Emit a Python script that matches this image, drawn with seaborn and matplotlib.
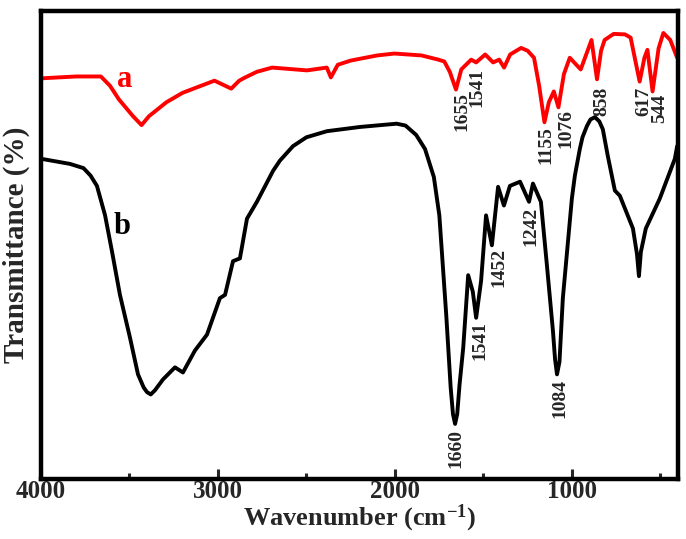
import pandas as pd
import matplotlib
matplotlib.use("Agg")
import matplotlib.pyplot as plt
import seaborn as sns
from matplotlib.ticker import MultipleLocator

# curve a (red), wavenumber / transmittance
wn_a = [4000, 3800, 3662, 3610, 3560, 3480, 3432, 3390, 3291, 3200, 3117, 3020,
        2925, 2880, 2846, 2780, 2694, 2497, 2385, 2362, 2323, 2250, 2100, 2003,
        1850, 1755, 1721, 1690, 1655, 1625, 1569, 1541, 1490, 1445, 1411, 1383,
        1349, 1287, 1250, 1214, 1185, 1155, 1130, 1102, 1076, 1045, 1012, 950,
        889, 858, 835, 815, 764, 700, 668, 617, 590, 573, 544, 510, 483, 444, 405]
t_a = [85.6, 86.0, 86.0, 84.0, 81.1, 77.5, 75.6, 77.5, 80.5, 82.5, 83.7, 85.1,
       83.4, 85.1, 85.8, 87.0, 87.9, 87.3, 87.9, 85.8, 88.5, 89.4, 90.5, 90.9,
       90.5, 89.6, 89.2, 87.0, 83.2, 87.5, 89.6, 89.0, 90.7, 89.0, 89.6, 87.9,
       90.7, 92.1, 91.5, 90.0, 84.0, 76.2, 80.5, 82.8, 79.4, 86.5, 90.0, 87.5,
       93.8, 85.4, 91.5, 93.8, 95.1, 95.0, 94.3, 84.9, 90.0, 91.7, 82.8, 92.0,
       95.3, 93.8, 90.0]

# curve b (black)
wn_b = [4000, 3836, 3760, 3720, 3684, 3638, 3599, 3554, 3497, 3452, 3420, 3401,
        3380, 3356, 3311, 3243, 3198, 3130, 3062, 2989, 2960, 2915, 2876, 2836,
        2780, 2689, 2650, 2576, 2500, 2384, 2198, 2050, 1990, 1940, 1880, 1830,
        1780, 1749, 1710, 1685, 1672, 1660, 1648, 1635, 1614, 1586, 1560, 1541,
        1513, 1485, 1452, 1417, 1384, 1350, 1293, 1242, 1220, 1175, 1141, 1107,
        1095, 1084, 1070, 1051, 1000, 983, 955, 940, 915, 895, 870, 845, 825,
        797, 757, 729, 655, 632, 621, 610, 582, 503, 418, 405]
t_b = [68.4, 67.3, 66.4, 64.8, 62.6, 56.3, 48.6, 39.3, 30.1, 22.3, 19.5, 18.5,
       18.0, 18.9, 21.2, 23.8, 22.7, 27.4, 30.8, 38.6, 39.3, 46.5, 47.1, 55.6,
       59.2, 65.8, 68.0, 71.1, 73.0, 74.3, 75.2, 75.7, 75.9, 75.5, 73.5, 70.5,
       64.5, 56.3, 35.0, 19.5, 13.8, 11.7, 13.8, 20.0, 28.0, 43.5, 40.0, 34.4,
       42.3, 56.3, 49.9, 62.4, 58.4, 62.6, 63.5, 59.2, 63.1, 59.2, 45.6, 31.6,
       25.5, 22.3, 25.0, 38.6, 59.9, 64.8, 70.5, 73.0, 75.4, 76.8, 77.3, 76.4,
       74.7, 69.0, 61.6, 60.5, 53.5, 48.0, 43.3, 48.5, 53.5, 59.9, 68.4, 71.1]

# peak labels
peaks_a = ["1655", "1541", "1155", "1076", "858", "617", "544"]
peaks_a_x = [1622, 1537, 1147, 1034, 831, 593, 503]
peaks_a_y = [82.6, 87.9, 75.4, 79.0, 83.9, 83.9, 82.2]
peaks_b = ["1660", "1541", "1452", "1242", "1084"]
peaks_b_x = [1655, 1520, 1412, 1232, 1068]
peaks_b_y = [10.6, 33.8, 49.3, 58.2, 21.2]

df_a = pd.DataFrame({"wn": wn_a, "T": t_a})
df_b = pd.DataFrame({"wn": wn_b, "T": t_b})

sns.set_theme(style="white")
plt.rcParams["font.family"] = ["Liberation Serif", "DejaVu Serif"]
plt.rcParams["font.weight"] = "bold"
plt.rcParams["mathtext.fontset"] = "custom"
plt.rcParams["mathtext.rm"] = "Liberation Serif:bold"
plt.rcParams["mathtext.default"] = "rm"

fig = plt.figure(figsize=(6.86, 5.39), dpi=100)
ax = fig.add_axes([0.0598, 0.112, 0.9286, 0.8676])

sns.lineplot(data=df_a, x="wn", y="T", ax=ax, color="#ff0000", lw=2.8,
             sort=False, estimator=None, solid_joinstyle="round", solid_capstyle="round")
sns.lineplot(data=df_b, x="wn", y="T", ax=ax, color="black", lw=2.8,
             sort=False, estimator=None, solid_joinstyle="round", solid_capstyle="round")

for lab, x, y in zip(peaks_a, peaks_a_x, peaks_a_y):
    ax.text(x, y, lab, rotation=90, ha="center", va="top", fontsize=14, fontweight="bold")
for lab, x, y in zip(peaks_b, peaks_b_x, peaks_b_y):
    ax.text(x, y, lab, rotation=90, ha="center", va="top", fontsize=14, fontweight="bold")

ax.text(3525, 85.4, "a", color="#ff0000", fontsize=22, fontweight="bold", ha="center", va="center")
ax.text(3542, 53.9, "b", color="black", fontsize=22, fontweight="bold", ha="center", va="center")

ax.set_xlim(4000, 400)
ax.set_ylim(0, 100)
ax.set_xticks([4000, 3000, 2000, 1000])
ax.xaxis.set_minor_locator(MultipleLocator(500))
ax.set_yticks([])
ax.tick_params(axis="x", which="major", direction="in", length=7, width=2.2,
               labelsize=18, pad=1, bottom=True)
ax.tick_params(axis="x", which="minor", direction="in", length=4, width=2.2, bottom=True)
for lab in ax.get_xticklabels():
    lab.set_fontweight("bold")

for sp in ax.spines.values():
    sp.set_linewidth(3.2)
    sp.set_color("black")

ax.set_xlabel(r"Wavenumber (cm$^{-1}$)", fontsize=19, fontweight="bold", labelpad=0)
ax.set_ylabel("Transmittance (%)", fontsize=21, fontweight="bold", labelpad=8)

fig.savefig("out.png", dpi=100)
